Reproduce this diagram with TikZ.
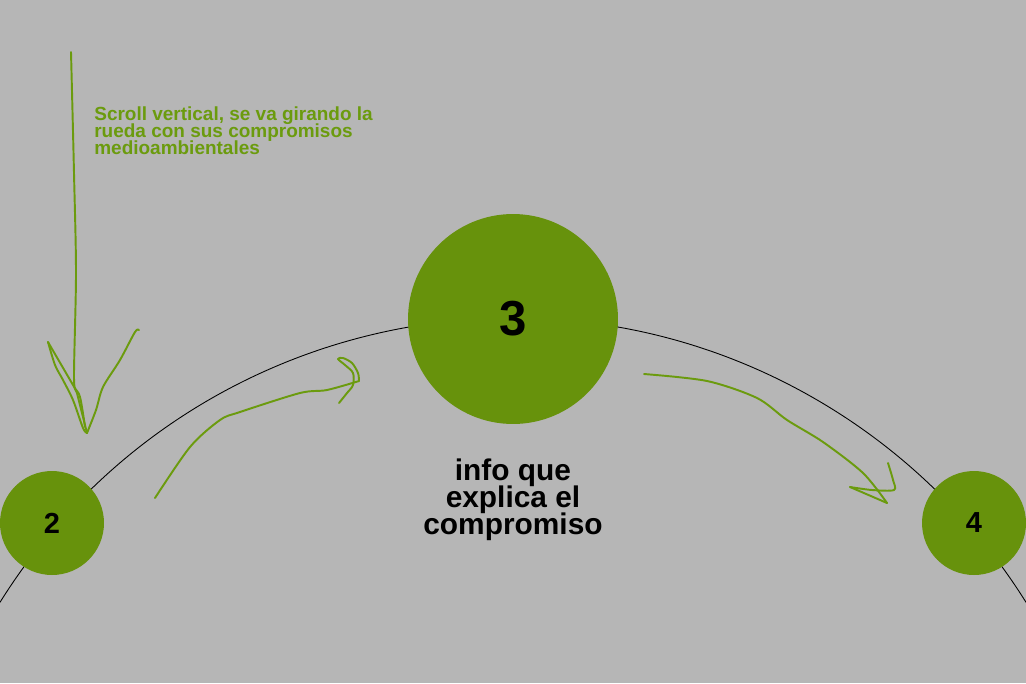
\documentclass[tikz,border=0pt]{standalone}
\usepackage{fontspec}
\setmainfont{Liberation Sans}
\usetikzlibrary{positioning}

\definecolor{bggray}{HTML}{B6B6B6}
\definecolor{leafgreen}{HTML}{67920C}
\definecolor{inkgreen}{HTML}{6B9B0E}
\setlength{\lineskiplimit}{-20pt}

\begin{document}
\begin{tikzpicture}[
    x=0.02cm, y=-0.02cm,
    big_commit/.style={
        circle,
        fill=leafgreen,
        minimum size=4.2cm,
        inner sep=0pt,
        font=\fontsize{28}{28}\selectfont\bfseries
    },
    small_commit/.style={
        circle,
        fill=leafgreen,
        minimum size=2.08cm,
        inner sep=0pt,
        font=\fontsize{16.5}{16.5}\selectfont\bfseries
    },
    note_text/.style={
        text=inkgreen, align=left, inner sep=0pt,
        font=\fontsize{10.8}{9.8}\selectfont\bfseries
    },
    info_text/.style={
        align=center, inner sep=0pt,
        font=\fontsize{17}{15.4}\selectfont\bfseries
    },
    scribble/.style={
        inkgreen, line width=1.1pt, line cap=round, line join=round
    },
    wheel/.style={black, line width=0.5pt}
]

    % Background
    \useasboundingbox (0,0) rectangle (1026,683);
    \fill[bggray] (0,0) rectangle (1026,683);

    % Wheel
    \coordinate (hub) at (513,923);
    \draw[wheel] (hub) ++(212:605) arc[start angle=212, end angle=328, radius=605];

    % Commitments
    \node[small_commit] (c2) at (52,523) {2};
    \node[big_commit] (c3) at (513,319) {3};
    \node[small_commit] (c4) at (974,523) {4};

    % Texts
    \node[below=0.68cm of c3, info_text] (info) {info que\\explica el\\compromiso};
    \node[note_text, anchor=north west] (note) at (94,106)
        {Scroll vertical, se va girando la\\rueda con sus compromisos\\medioambientales};

    % Scroll arrow
    \coordinate (scroll_top) at (71,52);
    \coordinate (scroll_tip) at (87,433);
    \draw[scribble] plot[smooth] coordinates {(scroll_top) (74,173) (76,273) (74,377) (77,393) (83,417) (scroll_tip)};
    \draw[scribble] plot[smooth] coordinates {(48,342) (55,365) (63,380) (73,400) (83,428) (scroll_tip)};
    \draw[scribble] plot[smooth] coordinates {(48,342) (73,385) (80,397) (85,427)};
    \draw[scribble] plot[smooth] coordinates {(scroll_tip) (96,410) (103,387) (120,360) (135,332) (139,330)};

    % Turn arrow, towards 3
    \coordinate (turn_start) at (155,498);
    \coordinate (turn_tip) at (359,381);
    \draw[scribble] plot[smooth] coordinates {(turn_start) (190,447) (220,420) (240,412) (300,393) (327,390) (turn_tip)};
    \draw[scribble] plot[smooth] coordinates {(339,403) (347,393) (353,385) (353,373) (345,365) (338,359) (343,358) (352,363) (358,373) (turn_tip)};

    % Turn arrow, towards 4
    \coordinate (next_start) at (644,374);
    \coordinate (next_tip) at (887,503);
    \draw[scribble] plot[smooth] coordinates {(next_start) (707,381) (757,398) (787,420) (823,442) (863,473) (next_tip)};
    \draw[scribble] plot[smooth] coordinates {(888,463) (893,480) (894,490) (872,490) (850,487)};
    \draw[scribble] (850,487) -- (next_tip);

\end{tikzpicture}
\end{document}
